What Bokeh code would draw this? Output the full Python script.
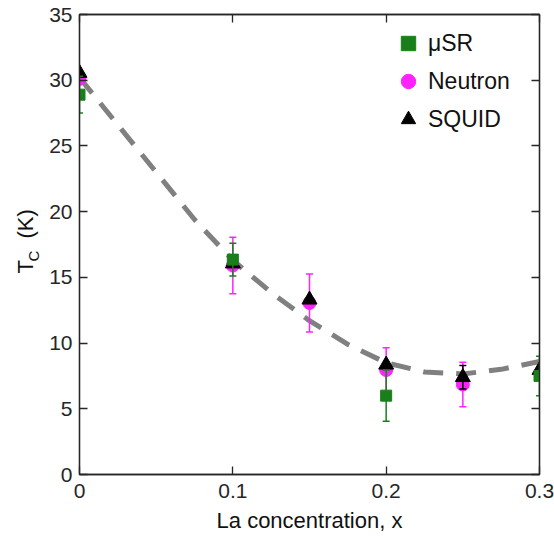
import numpy as np
from bokeh.plotting import figure
from bokeh.layouts import row
from bokeh.models import (ColumnDataSource, LinearAxis, FixedTicker, Legend,
                          LegendItem, Label, Range1d)
from bokeh.embed import file_html
from bokeh.resources import INLINE

# ---- data ----
x_ticks = [0, 0.1, 0.2, 0.3]
x_tick_labels = ["0", "0.1", "0.2", "0.3"]
y_ticks = [0, 5, 10, 15, 20, 25, 30, 35]

musr_x = [0.0, 0.1, 0.2, 0.3]
musr_y = [28.9, 16.35, 6.0, 7.5]
musr_err = [1.4, 1.25, 1.95, 1.5]

neutron_x = [0.0, 0.1, 0.15, 0.2, 0.25]
neutron_y = [30.1, 15.9, 13.05, 7.95, 6.85]
neutron_err = [0.0, 2.15, 2.2, 1.7, 1.7]

squid_x = [0.0, 0.1, 0.15, 0.2, 0.25, 0.3]
squid_y = [30.55, 16.05, 13.3, 8.35, 7.4, 7.95]
squid_err = [0.0, 0.0, 0.0, 0.0, 0.9, 0.0]

fit_x = [0.0, 0.025, 0.05, 0.075, 0.1, 0.125, 0.15, 0.175, 0.2, 0.225, 0.25, 0.275, 0.3]
fit_y = [30.2, 26.6, 23.0, 19.4, 16.3, 13.85, 11.7, 9.9, 8.5, 7.8, 7.65, 8.0, 8.6]

GREEN = "#1a7f1a"
MAGENTA = "#ff22ff"
BLACK = "#000000"
AXIS = "#262626"
TEXT = "#111111"
FONT = "Liberation Sans"
H = 538
LABEL_W = 42

p = figure(width=554 - LABEL_W, height=H, output_backend="svg", toolbar_location=None,
           x_range=Range1d(0, 0.3), y_range=Range1d(0, 35),
           min_border_left=79 - LABEL_W, min_border_right=15, min_border_top=14,
           min_border_bottom=64, x_axis_label="La concentration, x")
p.grid.visible = False
p.outline_line_color = AXIS
p.outline_line_width = 1.3
p.background_fill_color = "white"
p.border_fill_color = "white"

def style_axis(ax, show_labels=True):
    ax.axis_line_color = AXIS
    ax.axis_line_width = 1.3
    ax.major_tick_line_color = AXIS
    ax.major_tick_line_width = 1.3
    ax.major_tick_in = 8
    ax.major_tick_out = 0
    ax.minor_tick_line_color = None
    ax.major_label_text_font = FONT
    if show_labels:
        ax.major_label_text_color = AXIS
        ax.major_label_text_font_size = "21px"
        ax.major_label_standoff = 9
    else:
        ax.major_label_text_color = None
        ax.major_label_text_font_size = "1px"
        ax.major_label_standoff = 0

p.xaxis.ticker = FixedTicker(ticks=x_ticks)
p.xaxis.major_label_overrides = {t: l for t, l in zip(x_ticks, x_tick_labels)}
p.yaxis.ticker = FixedTicker(ticks=y_ticks)
style_axis(p.xaxis[0])
style_axis(p.yaxis[0])
p.yaxis.major_label_standoff = 7
p.xaxis.axis_label_text_font = FONT
p.xaxis.axis_label_text_font_size = "22px"
p.xaxis.axis_label_text_font_style = "normal"
p.xaxis.axis_label_text_color = TEXT
p.xaxis.axis_label_standoff = 7

top_ax = LinearAxis(ticker=FixedTicker(ticks=x_ticks))
right_ax = LinearAxis(ticker=FixedTicker(ticks=y_ticks))
style_axis(top_ax, False)
style_axis(right_ax, False)
p.add_layout(top_ax, "above")
p.add_layout(right_ax, "right")

# fitted guide line
p.line(fit_x, fit_y, line_color="#808080", line_width=5, line_dash="20 13")

def errorbars(xs, ys, errs, color):
    xs = np.array(xs); ys = np.array(ys); errs = np.array(errs)
    m = errs > 0
    src = ColumnDataSource(dict(x=xs[m], lo=(ys - errs)[m], hi=(ys + errs)[m]))
    p.segment(x0="x", y0="lo", x1="x", y1="hi", source=src, line_color=color, line_width=1.5)
    p.scatter(x="x", y="lo", source=src, marker="dash", size=7, line_color=color, line_width=1.5)
    p.scatter(x="x", y="hi", source=src, marker="dash", size=7, line_color=color, line_width=1.5)

errorbars(neutron_x, neutron_y, neutron_err, MAGENTA)
r_neu = p.scatter(neutron_x, neutron_y, marker="circle", size=13,
                  fill_color=MAGENTA, line_color=MAGENTA)
errorbars(squid_x, squid_y, squid_err, BLACK)
r_sq = p.scatter(squid_x, squid_y, marker="triangle", size=15,
                 fill_color=BLACK, line_color=BLACK)
errorbars(musr_x, musr_y, musr_err, GREEN)
r_mu = p.scatter(musr_x, musr_y, marker="square", size=11,
                 fill_color=GREEN, line_color=GREEN)

legend = Legend(items=[LegendItem(label="\u03bcSR", renderers=[r_mu]),
                       LegendItem(label="Neutron", renderers=[r_neu]),
                       LegendItem(label="SQUID", renderers=[r_sq])],
                location=(311, 337), glyph_width=36, glyph_height=36,
                label_height=36, spacing=2, padding=0, margin=0,
                label_standoff=2, border_line_color=None,
                background_fill_alpha=0,
                label_text_font=FONT, label_text_font_size="23px",
                label_text_color=TEXT)
p.add_layout(legend, "center")

# narrow strip on the left that carries the y-axis title T_C (K)
q = figure(width=LABEL_W, height=H, output_backend="svg", toolbar_location=None,
           x_range=Range1d(0, LABEL_W), y_range=Range1d(0, H),
           x_axis_type=None, y_axis_type=None, min_border=0)
q.grid.visible = False
q.outline_line_color = None
q.background_fill_color = "white"
q.border_fill_color = "white"
lab_kw = dict(x_units="screen", y_units="screen", angle=np.pi / 2, text_font=FONT,
              text_color=TEXT, text_baseline="alphabetic", text_align="left")
q.add_layout(Label(x=25, y=201, text="T", text_font_size="22px", **lab_kw))
q.add_layout(Label(x=33, y=213, text="C", text_font_size="15px", **lab_kw))
q.add_layout(Label(x=25, y=236, text="(K)", text_font_size="22px", **lab_kw))

layout = row(q, p, spacing=0)
open("out.html", "w").write(file_html(layout, INLINE))
